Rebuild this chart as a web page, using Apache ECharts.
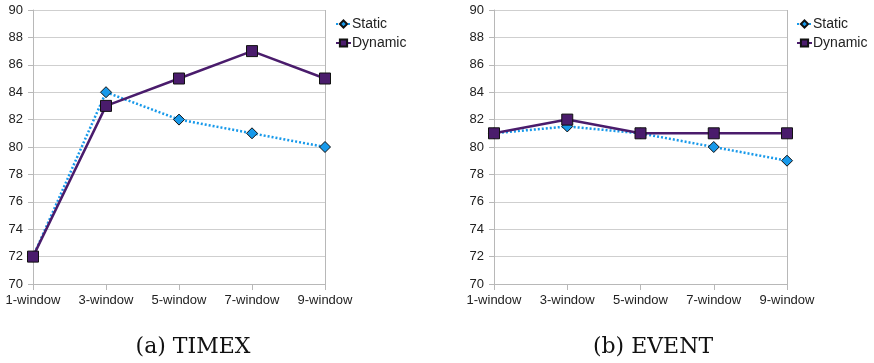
<!DOCTYPE html>
<html>
<head>
<meta charset="utf-8">
<script src="https://cdn.jsdelivr.net/npm/echarts@6/dist/echarts.min.js"></script>
<style>
  html, body { margin: 0; padding: 0; background: #fff; }
  #chart { width: 874px; height: 363px; }
</style>
</head>
<body>
<div id="chart"></div>
<script>
// Window sizes along the x axis
const categories = ['1-window', '3-window', '5-window', '7-window', '9-window'];

// Panel (a): TIMEX
const timexStatic = [72, 84, 82, 81, 80];
const timexDynamic = [72, 83, 85, 87, 85];

// Panel (b): EVENT
const eventStatic = [81, 81.5, 81, 80, 79];
const eventDynamic = [81, 82, 81, 81, 81];

const yTicks = { min: 70, max: 90, interval: 2 };
const captions = ['(a) TIMEX', '(b) EVENT'];

const STATIC_COLOR = '#1799ea';
const DYNAMIC_COLOR = '#4a1c6c';
const AXIS_GRAY = '#b8b8b8';
const GRID_GRAY = '#cfcfcf';
const LABEL_FONT = '"Liberation Sans", Arial, sans-serif';
const CAPTION_FONT = '22px "DejaVu Serif", "Liberation Serif", serif';

const grids = [
  { left: 33, top: 10, width: 292, height: 274 },
  { left: 494, top: 10, width: 293, height: 274 }
];

function xAxisFor(i) {
  return {
    type: 'category', gridIndex: i, data: categories, boundaryGap: false,
    axisLine: { lineStyle: { color: AXIS_GRAY, width: 1 } },
    axisTick: { show: true, alignWithLabel: true, length: 6, lineStyle: { color: AXIS_GRAY } },
    axisLabel: { color: '#222', fontSize: 13, fontFamily: LABEL_FONT, margin: 10 },
    splitLine: { show: false }
  };
}
function yAxisFor(i) {
  return {
    type: 'value', gridIndex: i, min: yTicks.min, max: yTicks.max, interval: yTicks.interval,
    axisLine: { show: true, lineStyle: { color: AXIS_GRAY, width: 1 } },
    axisTick: { show: true, length: 5, lineStyle: { color: AXIS_GRAY } },
    axisLabel: { color: '#222', fontSize: 13, fontFamily: LABEL_FONT, margin: 10 },
    splitLine: { show: true, lineStyle: { color: GRID_GRAY, width: 1 } }
  };
}
function staticSeries(i, data) {
  return {
    name: 'Static', type: 'line', xAxisIndex: i, yAxisIndex: i, data: data,
    symbol: 'diamond', symbolSize: 11, z: 2,
    lineStyle: { color: STATIC_COLOR, width: 2.5, type: [2, 2] },
    itemStyle: { color: STATIC_COLOR, borderColor: '#111', borderWidth: 1 }
  };
}
function dynamicSeries(i, data) {
  return {
    name: 'Dynamic', type: 'line', xAxisIndex: i, yAxisIndex: i, data: data,
    symbol: 'rect', symbolSize: 11, z: 3,
    lineStyle: { color: DYNAMIC_COLOR, width: 2.5 },
    itemStyle: { color: DYNAMIC_COLOR, borderColor: '#111', borderWidth: 1 }
  };
}
function legendAt(left) {
  return {
    left: left, top: 12, orient: 'vertical', itemGap: 5, itemWidth: 15, itemHeight: 9,
    data: ['Static', 'Dynamic'],
    textStyle: { color: '#222', fontSize: 14, fontFamily: LABEL_FONT, padding: [0, 0, 0, -4] }
  };
}

const chart = echarts.init(document.getElementById('chart'), null, { renderer: 'canvas' });
chart.setOption({
  animation: false,
  backgroundColor: '#fff',
  grid: grids,
  xAxis: [xAxisFor(0), xAxisFor(1)],
  yAxis: [yAxisFor(0), yAxisFor(1)],
  legend: [legendAt(330), legendAt(791)],
  series: [
    staticSeries(0, timexStatic), dynamicSeries(0, timexDynamic),
    staticSeries(1, eventStatic), dynamicSeries(1, eventDynamic)
  ],
  graphic: [
    // right-hand frame lines of each plot area
    { type: 'line', shape: { x1: 325.5, y1: 10, x2: 325.5, y2: 284 }, style: { stroke: AXIS_GRAY, lineWidth: 1 } },
    { type: 'line', shape: { x1: 787.5, y1: 10, x2: 787.5, y2: 284 }, style: { stroke: AXIS_GRAY, lineWidth: 1 } },
    // panel captions
    { type: 'text', style: { text: captions[0], x: 193, y: 336, textAlign: 'center', fill: '#111', font: CAPTION_FONT } },
    { type: 'text', style: { text: captions[1], x: 653, y: 336, textAlign: 'center', fill: '#111', font: CAPTION_FONT } }
  ]
});
</script>
</body>
</html>
